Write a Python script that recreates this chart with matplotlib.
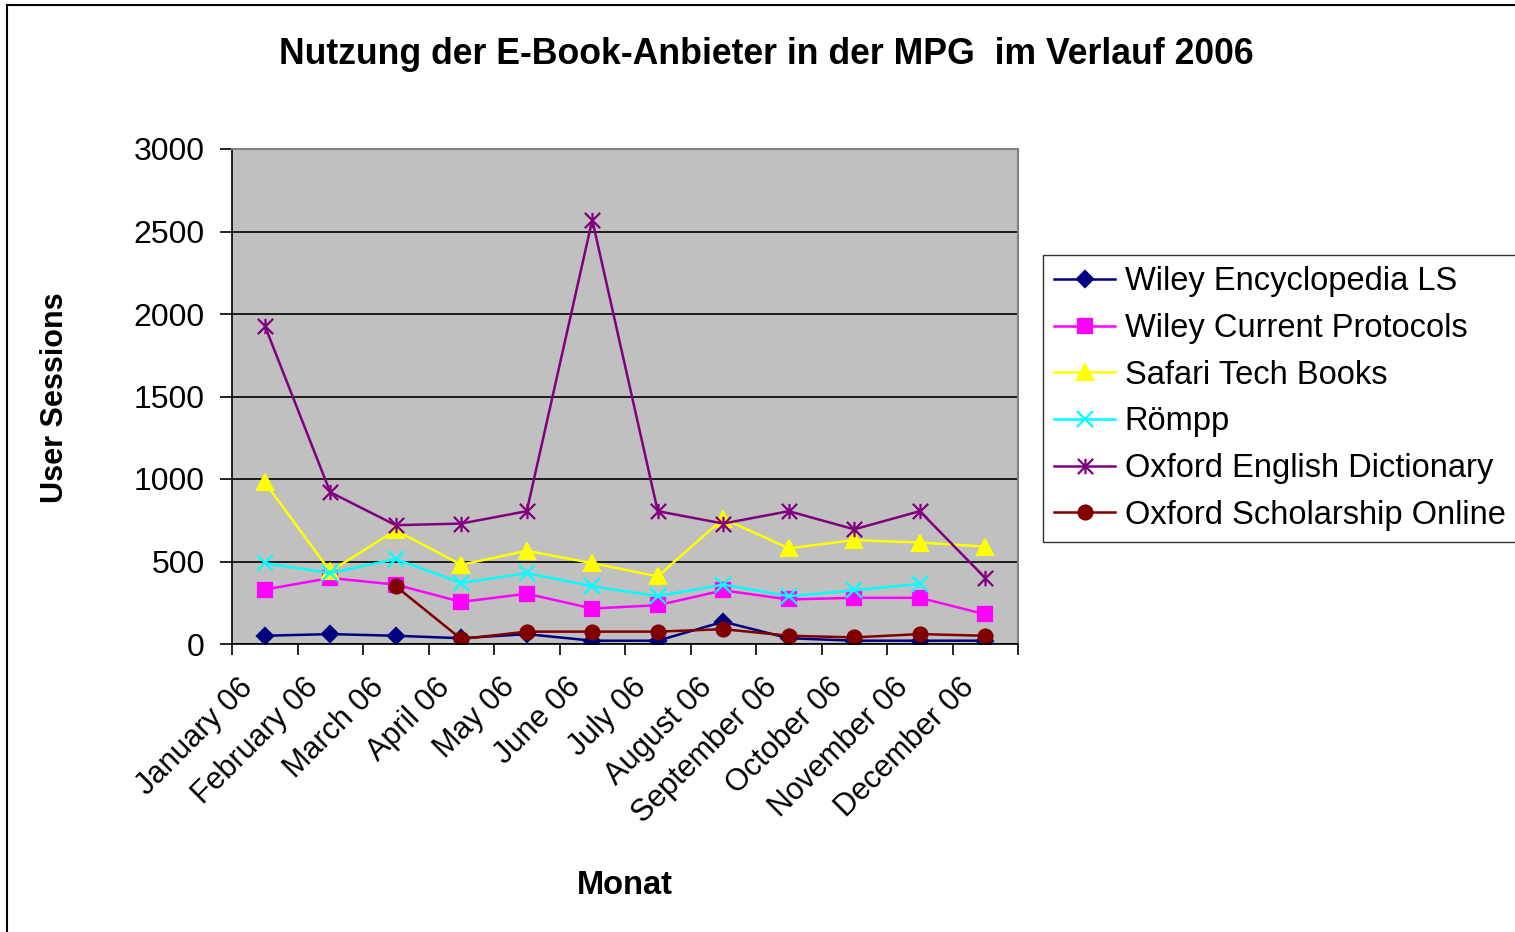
import numpy as np
import matplotlib
matplotlib.use("Agg")
import matplotlib.pyplot as plt
import matplotlib.transforms as mtransforms
from matplotlib.path import Path
from matplotlib.lines import Line2D

plt.rcParams['font.family'] = ['Liberation Sans', 'DejaVu Sans']

months = ["January 06", "February 06", "March 06", "April 06", "May 06", "June 06",
          "July 06", "August 06", "September 06", "October 06", "November 06", "December 06"]

wiley_enc = [50, 60, 50, 35, 60, 20, 20, 135, 35, 20, 20, 20]
wiley_cp = [330, 400, 360, 255, 305, 215, 235, 325, 270, 280, 280, 180]
safari = [980, 440, 690, 480, 565, 490, 410, 760, 580, 630, 615, 590]
roempp = [490, 430, 515, 370, 430, 350, 290, 360, 290, 325, 365, np.nan]
oed = [1930, 920, 720, 730, 805, 2570, 805, 730, 805, 695, 805, 400]
oso = [np.nan, np.nan, 350, 30, 75, 75, 75, 90, 50, 40, 60, 50]

# Excel-style star: X with a vertical bar
star = Path([(0, -1), (0, 1), (-1, -1), (1, 1), (-1, 1), (1, -1)],
            [Path.MOVETO, Path.LINETO, Path.MOVETO, Path.LINETO, Path.MOVETO, Path.LINETO])

series = [
    ("Wiley Encyclopedia LS", wiley_enc, "#000080", "D", 8),
    ("Wiley Current Protocols", wiley_cp, "#FF00FF", "s", 10),
    ("Safari Tech Books", safari, "#FFFF00", "^", 12),
    ("Römpp", roempp, "#00FFFF", "x", 11),
    ("Oxford English Dictionary", oed, "#800080", star, 11),
    ("Oxford Scholarship Online", oso, "#800000", "o", 10),
]

fig = plt.figure(figsize=(15.15, 9.32), dpi=100)
ax = fig.add_axes([232/1515, 1 - 644/932, (1018-232)/1515, (644-149)/932])
ax.set_facecolor("#C0C0C0")

x = np.arange(len(months))
for name, vals, col, mk, ms in series:
    ax.plot(x, vals, color=col, lw=1.8, marker=mk, markersize=ms,
            markerfacecolor=col, markeredgecolor=col, markeredgewidth=1.6, label=name)

ax.set_xlim(-0.5, 11.5)
ax.set_ylim(0, 3000)
ax.set_yticks(np.arange(0, 3001, 500))
ax.yaxis.grid(True, color="black", lw=1.2)
ax.set_axisbelow(True)

ax.set_xticks(np.arange(-0.5, 12, 1))
ax.set_xticklabels([])
ax.set_xticks(x, minor=True)
ax.set_xticklabels(months, minor=True, rotation=45, ha="right", va="center",
                   rotation_mode="anchor", fontsize=22)
ax.tick_params(axis="x", which="minor", length=0, pad=28)
ax.tick_params(axis="x", which="major", length=8, width=1.2, direction="out")
ax.tick_params(axis="y", length=9, width=1.2, direction="out", labelsize=23, pad=10.5)

shift = mtransforms.ScaledTranslation(-16/100, 0, fig.dpi_scale_trans)
for lab in ax.get_xticklabels(minor=True):
    lab.set_transform(lab.get_transform() + shift)

for s in ["left", "bottom"]:
    ax.spines[s].set_color("black")
    ax.spines[s].set_linewidth(1.2)
for s in ["top", "right"]:
    ax.spines[s].set_color("#808080")
    ax.spines[s].set_linewidth(1.5)

fig.text(766/1515, 1 - 55/932, "Nutzung der E-Book-Anbieter in der MPG  im Verlauf 2006",
         ha="center", va="center", fontsize=25.7, fontweight="bold")
fig.text(55/1515, 1 - 398/932, "User Sessions", ha="center", va="center",
         rotation=90, fontsize=22, fontweight="bold")
fig.text(625/1515, 1 - 886/932, "Monat", ha="center", va="center",
         fontsize=23.5, fontweight="bold")

leg = fig.legend(loc="upper left", bbox_to_anchor=(1043/1515, 1 - 255/932),
                 fontsize=23.5, frameon=True, fancybox=False, handlelength=1.85,
                 labelspacing=0.48, borderpad=0.35, handletextpad=0.3, borderaxespad=0)
leg.get_frame().set_edgecolor("black")
leg.get_frame().set_linewidth(1.0)

# outer chart border (top and left visible)
fig.add_artist(Line2D([7/1515, 1], [1 - 5/932, 1 - 5/932], color="black", lw=1.5))
fig.add_artist(Line2D([7/1515, 7/1515], [0, 1 - 5/932], color="black", lw=1.5))

fig.savefig("out.png", dpi=100)
